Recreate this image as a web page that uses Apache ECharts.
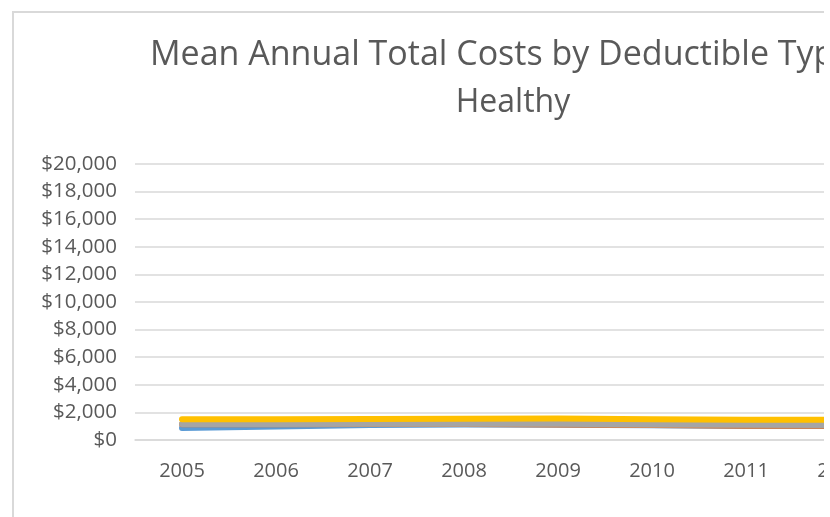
<!DOCTYPE html>
<html>
<head>
<meta charset="utf-8">
<script src="https://cdn.jsdelivr.net/npm/echarts@6/dist/echarts.min.js"></script>
<style>
  html, body { margin: 0; padding: 0; background: #fff; }
  #frame { position: absolute; left: 0; top: 0; width: 824px; height: 517px; overflow: hidden; background: #fff; }
  #box { position: absolute; left: 12px; top: 11px; width: 992px; height: 620px; border: 2px solid #d9d9d9; background: #fff; }
  #chart { width: 992px; height: 620px; }
</style>
</head>
<body>
<div id="frame"><div id="box"><div id="chart"></div></div></div>
<script>
// Years on the category axis
const years = ['2005', '2006', '2007', '2008', '2009', '2010', '2011', '2012'];

// Mean annual total cost (USD) per deductible type
const typeA = [870, 980, 1080, 1120, 1100, 1060, 1020, 1010];
const typeB = [1140, 1150, 1160, 1160, 1130, 1080, 1040, 1030];
const typeC = [1160, 1160, 1170, 1180, 1170, 1130, 1100, 1090];
const typeD = [1500, 1510, 1530, 1540, 1560, 1500, 1470, 1460];

const seriesNames = ['Deductible type A', 'Deductible type B', 'Deductible type C', 'Deductible type D'];
const seriesData = [typeA, typeB, typeC, typeD];
const seriesColors = ['#5B9BD5', '#ED7D31', '#A5A5A5', '#FFC000'];

const fontFamily = '"Open Sans", "Noto Sans", sans-serif';
const textColor = '#595959';

const chart = echarts.init(document.getElementById('chart'), null, { renderer: 'canvas' });

chart.setOption({
  animation: false,
  backgroundColor: '#fff',
  title: [
    {
      text: 'Mean Annual Total Costs by Deductible Type',
      left: 131,
      top: 20,
      textStyle: { fontFamily, fontSize: 34, fontWeight: 'normal', color: textColor }
    },
    {
      text: 'Healthy',
      left: 494,
      top: 69,
      textAlign: 'center',
      textStyle: { fontFamily, fontSize: 32, fontWeight: 'normal', color: textColor }
    }
  ],
  grid: { left: 121, top: 151, width: 752, height: 276, containLabel: false },
  xAxis: {
    type: 'category',
    data: years,
    boundaryGap: true,
    axisLine: { show: true, lineStyle: { color: '#d9d9d9', width: 1.5 } },
    axisTick: { show: false },
    axisLabel: { margin: 21, fontFamily, fontSize: 20, color: textColor }
  },
  yAxis: {
    type: 'value',
    min: 0,
    max: 20000,
    interval: 2000,
    axisLine: { show: false },
    axisTick: { show: false },
    splitLine: { lineStyle: { color: '#d9d9d9', width: 1.5 } },
    axisLabel: {
      margin: 18,
      fontFamily,
      fontSize: 20.5,
      color: textColor,
      formatter: v => '$' + v.toLocaleString('en-US')
    }
  },
  series: seriesData.map((d, i) => ({
    name: seriesNames[i],
    type: 'line',
    data: d,
    symbol: 'none',
    z: 2 + i,
    lineStyle: { color: seriesColors[i], width: 6, cap: 'round', join: 'round' }
  }))
});
</script>
</body>
</html>
